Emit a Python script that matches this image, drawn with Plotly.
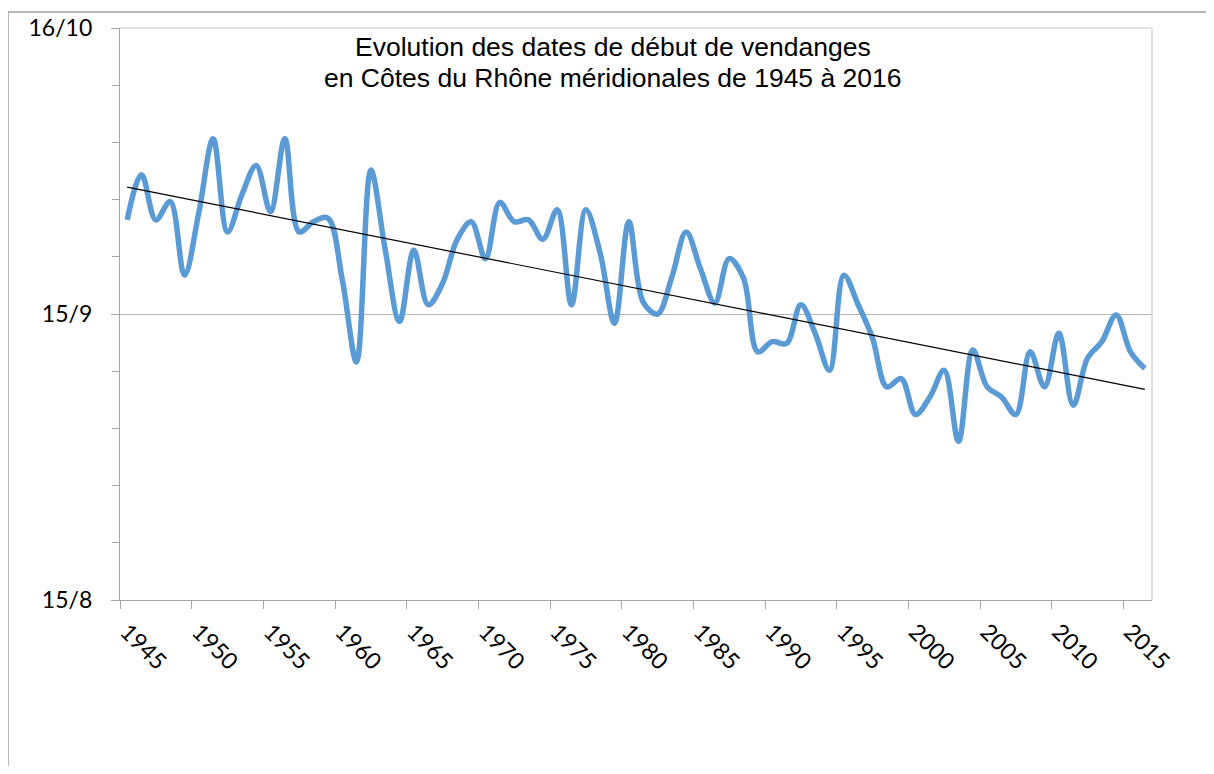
import numpy as np
import plotly.graph_objects as go

# ---- data ----
years = list(range(1945, 2017))
# days after 15 August (15/8 = 0, 15/9 = 31, 16/10 = 62)
days = [
    41.2, 46.1, 41.2, 43.2, 35.2, 42.0, 50.0, 39.9, 43.9, 47.1,   # 1945-1954
    42.1, 50.0, 39.9, 41.0, 41.4, 34.8, 25.8, 46.6, 38.0, 30.2,   # 1955-1964
    37.9, 32.0, 34.3, 39.0, 41.0, 37.0, 43.1, 41.0, 41.2, 39.1,   # 1965-1974
    42.3, 32.0, 42.3, 37.6, 30.0, 41.0, 32.3, 31.0, 35.0, 39.9,   # 1975-1984
    35.9, 32.2, 37.0, 34.9, 26.9, 28.0, 27.8, 32.0, 28.9, 24.9,   # 1985-1994
    35.2, 32.0, 28.4, 23.1, 24.0, 20.1, 22.0, 24.9, 17.2, 27.1,   # 1995-2004
    23.1, 22.0, 20.1, 26.9, 23.1, 28.9, 21.1, 26.2, 28.0, 30.9,   # 2005-2014
    26.9, 25.1,                                                   # 2015-2016
]
y_tick_vals = [0, 31, 62]
y_tick_text = ["15/8", "15/9", "16/10"]
x_tick_text = [str(y) for y in range(1945, 2016, 5)]
title_lines = ["Evolution des dates de début de vendanges",
               "en Côtes du Rhône méridionales de 1945 à 2016"]

# linear trend from the data
coef = np.polyfit(years, days, 1)
trend = [coef[0] * yr + coef[1] for yr in years]

# ---- geometry (screen pixels; page body has an 8px offset) ----
OFF = 8
W, H = 1214 - 2 * OFF, 774 - 2 * OFF
L, R, T, B = 120 - OFF, 1152 - OFF, 28 - OFF, 600 - OFF
def px(x):  # screen x -> paper
    return (x - OFF - L) / (R - L)
def py(y):  # screen y -> paper
    return (B - (y - OFF)) / (B - T)

fig = go.Figure()
fig.add_trace(go.Scatter(
    x=years, y=days, mode="lines",
    line=dict(color="#5B9BD5", width=5.5, shape="spline", smoothing=1.0),
    hoverinfo="skip", showlegend=False))
fig.add_trace(go.Scatter(
    x=years, y=trend, mode="lines",
    line=dict(color="#000000", width=1.2),
    hoverinfo="skip", showlegend=False))

fig.update_layout(
    width=W, height=H,
    margin=dict(l=L, r=W - R, t=T, b=H - B, pad=0, autoexpand=False),
    paper_bgcolor="white", plot_bgcolor="white",
    showlegend=False,
    xaxis=dict(
        range=[1944.5, 2016.5],
        tickmode="array",
        tickvals=[int(t) - 0.5 for t in x_tick_text],
        ticktext=x_tick_text,
        tickangle=45,
        ticklabelshift=7,
        ticks="outside", ticklen=8, tickcolor="#a6a6a6", tickwidth=1.3,
        showline=True, linecolor="#a6a6a6", linewidth=1.3,
        showgrid=False, zeroline=False, automargin=False,
        tickfont=dict(family="Lato", size=23, color="black"),
    ),
    yaxis=dict(
        range=[0, 62],
        tickmode="array",
        tickvals=y_tick_vals,
        ticktext=y_tick_text,
        ticks="outside", ticklen=8, tickcolor="#a6a6a6", tickwidth=1.3,
        showline=True, linecolor="#a6a6a6", linewidth=1.3,
        showgrid=True, gridcolor="#b5b5b5", gridwidth=1.3,
        zeroline=False, automargin=False,
        minor=dict(dtick=6.2, tick0=0, ticks="outside", ticklen=7,
                   tickcolor="#a6a6a6", tickwidth=1.3, showgrid=False),
        tickfont=dict(family="Lato", size=23, color="black"),
        ticklabelstandoff=14,
    ),
)

# plot area border (top / right, light)
fig.add_shape(type="line", xref="paper", yref="paper",
              x0=0, x1=1, y0=1, y1=1, line=dict(color="#d9d9d9", width=1.5))
fig.add_shape(type="line", xref="paper", yref="paper",
              x0=1, x1=1, y0=0, y1=1, line=dict(color="#d9d9d9", width=1.5))
# outer chart border (top / left)
fig.add_shape(type="line", xref="paper", yref="paper",
              x0=px(8), x1=px(1220), y0=py(12), y1=py(12),
              line=dict(color="#a0a0a0", width=1.5))
fig.add_shape(type="line", xref="paper", yref="paper",
              x0=px(8), x1=px(8), y0=py(12), y1=py(780),
              line=dict(color="#a0a0a0", width=1.5))

for txt, yc in zip(title_lines, [47, 78]):
    fig.add_annotation(text=txt, xref="paper", yref="paper",
                       x=px(613), y=py(yc), xanchor="center", yanchor="middle",
                       showarrow=False,
                       font=dict(family="Liberation Sans", size=26.5, color="black"))

fig.write_html("out.html")
